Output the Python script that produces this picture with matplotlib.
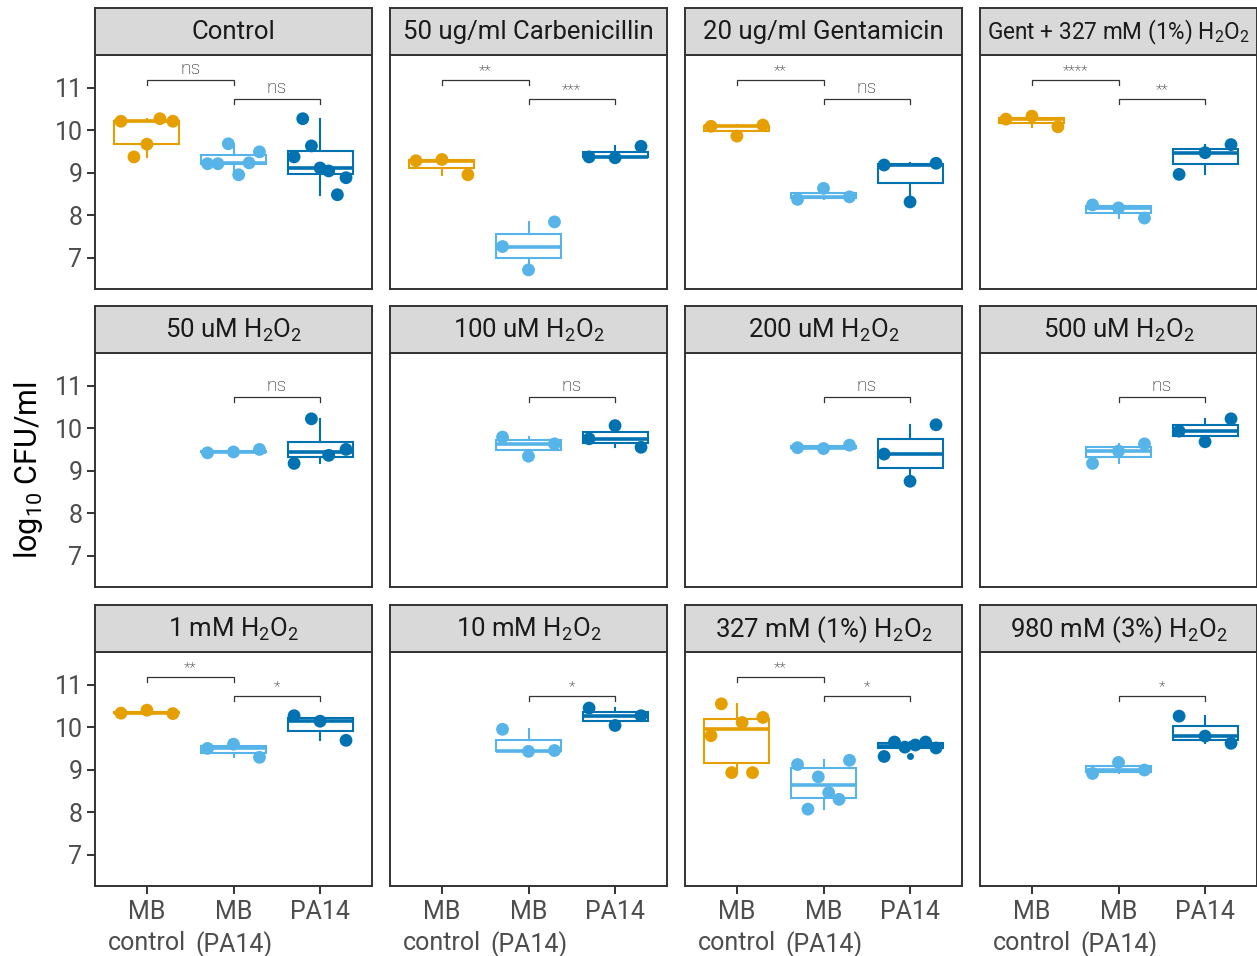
import numpy as np
import matplotlib
matplotlib.use("Agg")
import matplotlib.pyplot as plt

plt.rcParams['font.family'] = ['Roboto', 'DejaVu Sans']
plt.rcParams['mathtext.fontset'] = 'custom'
plt.rcParams['mathtext.rm'] = 'Roboto'
plt.rcParams['mathtext.it'] = 'Roboto:italic'

groups = ["MB\ncontrol", "MB\n(PA14)", "PA14"]
colors = ["#E69F00", "#56B4E9", "#0072B2"]

titles = [
    "Control", "50 ug/ml Carbenicillin", "20 ug/ml Gentamicin",
    "Gent + 327 mM (1%) H$_2$O$_2$",
    "50 uM H$_2$O$_2$", "100 uM H$_2$O$_2$", "200 uM H$_2$O$_2$", "500 uM H$_2$O$_2$",
    "1 mM H$_2$O$_2$", "10 mM H$_2$O$_2$", "327 mM (1%) H$_2$O$_2$", "980 mM (3%) H$_2$O$_2$",
]

# log10 CFU/ml per panel, one list per strain group (None = not measured)
mb_control = [
    [10.21, 9.37, 9.67, 10.27, 10.21],
    [9.28, 9.31, 8.95],
    [10.09, 9.86, 10.12],
    [10.26, 10.33, 10.08],
    None, None, None, None,
    [10.33, 10.40, 10.32],
    None,
    [9.80, 10.55, 8.93, 10.11, 8.93, 10.23],
    None,
]
mb_pa14 = [
    [9.21, 9.21, 9.68, 8.95, 9.23, 9.49],
    [7.26, 6.71, 7.84],
    [8.37, 8.63, 8.43],
    [8.24, 8.17, 7.93],
    [9.42, 9.44, 9.50],
    [9.79, 9.34, 9.63],
    [9.54, 9.52, 9.60],
    [9.17, 9.46, 9.63],
    [9.50, 9.60, 9.29],
    [9.95, 9.43, 9.45],
    [9.12, 8.07, 8.83, 8.46, 8.30, 9.22],
    [8.91, 9.17, 8.99],
]
pa14 = [
    [9.37, 10.27, 9.63, 9.11, 9.04, 8.48, 8.88],
    [9.37, 9.35, 9.62],
    [9.18, 8.31, 9.22],
    [8.96, 9.47, 9.66],
    [9.17, 10.22, 9.36, 9.50],
    [9.75, 10.06, 9.55],
    [9.39, 8.75, 10.08],
    [9.93, 9.68, 10.22],
    [10.27, 10.14, 9.69],
    [10.45, 10.04, 10.27],
    [9.31, 9.65, 9.53, 9.58, 9.65, 9.51],
    [10.26, 9.79, 9.62],
]

# significance: (MB control vs MB (PA14), MB (PA14) vs PA14)
sig_labels = [
    ("ns", "ns"), ("**", "***"), ("**", "ns"), ("****", "**"),
    (None, "ns"), (None, "ns"), (None, "ns"), (None, "ns"),
    ("**", "*"), (None, "*"), ("**", "*"), (None, "*"),
]

W, H = 1257, 956
fig = plt.figure(figsize=(W / 100, H / 100), dpi=100)

col_left = [95, 390, 685, 980]
row_top = [55, 353, 652]
pw, ph, sh = 277, 234, 47
dark = "#333333"


def px_axes(x, y_top, w, h):
    return fig.add_axes([x / W, 1 - (y_top + h) / H, w / W, h / H])


def bracket(ax, x1, x2, y, label):
    tip = 0.12
    ax.plot([x1, x1, x2, x2], [y - tip, y, y, y - tip], color=dark, lw=0.9,
            solid_joinstyle='miter', zorder=5)
    ax.text((x1 + x2) / 2, y + 0.04, label, ha='center', va='bottom',
            fontsize=14 if label == "ns" else 11, color="#111111",
            fontweight='light')


for i, title in enumerate(titles):
    r, c = divmod(i, 4)
    ax = px_axes(col_left[c], row_top[r], pw, ph)
    strip = px_axes(col_left[c], row_top[r] - sh, pw, sh)

    strip.set_facecolor("#D9D9D9")
    strip.set_xticks([])
    strip.set_yticks([])
    for s in strip.spines.values():
        s.set_color(dark)
        s.set_linewidth(1.4)
    # the long combined-treatment title is set smaller so it fits the strip
    fs = 16.3 if title.startswith("Gent +") else 18.5
    strip.text(0.5, 0.48, title, ha='center', va='center', fontsize=fs,
               color="#1A1A1A", transform=strip.transAxes)

    for g, (series, col) in enumerate(zip([mb_control, mb_pa14, pa14], colors)):
        vals = series[i]
        if vals is None:
            continue
        pos = g + 1
        ax.boxplot([vals], positions=[pos], widths=0.75, whis=1.5,
                   patch_artist=True, manage_ticks=False,
                   boxprops=dict(facecolor="white", edgecolor=col, lw=1.5),
                   medianprops=dict(color=col, lw=2.6),
                   whiskerprops=dict(color=col, lw=1.5),
                   capprops=dict(visible=False),
                   flierprops=dict(marker='o', markersize=4,
                                   markerfacecolor=col, markeredgecolor=col))
        offs = np.linspace(-0.3, 0.3, len(vals))
        ax.scatter(pos + offs, vals, s=85, color=col, edgecolor='none', zorder=4)

    s12, s23 = sig_labels[i]
    if s12:
        bracket(ax, 1, 2, 11.19, s12)
    if s23:
        bracket(ax, 2, 3, 10.73, s23)

    ax.set_xlim(0.4, 3.6)
    ax.set_ylim(6.26, 11.77)
    for s in ax.spines.values():
        s.set_color(dark)
        s.set_linewidth(1.4)

    ax.set_yticks([7, 8, 9, 10, 11])
    ax.set_xticks([1, 2, 3])
    ax.tick_params(axis='both', length=6, width=1.4, color=dark,
                   labelsize=18, labelcolor="#4D4D4D")
    if c == 0:
        ax.set_yticklabels(["7", "8", "9", "10", "11"])
        ax.tick_params(axis='y', pad=3)
    else:
        ax.tick_params(axis='y', left=False, labelleft=False)
    if r == 2:
        ax.set_xticklabels(groups, linespacing=1.35)
        ax.tick_params(axis='x', pad=4)
    else:
        ax.tick_params(axis='x', bottom=False, labelbottom=False)

fig.text(29 / W, 1 - 470 / H, r"log$_{10}$ CFU/ml", rotation=90,
         ha='center', va='center', fontsize=22, color="black")

fig.savefig("out.png", dpi=100)
